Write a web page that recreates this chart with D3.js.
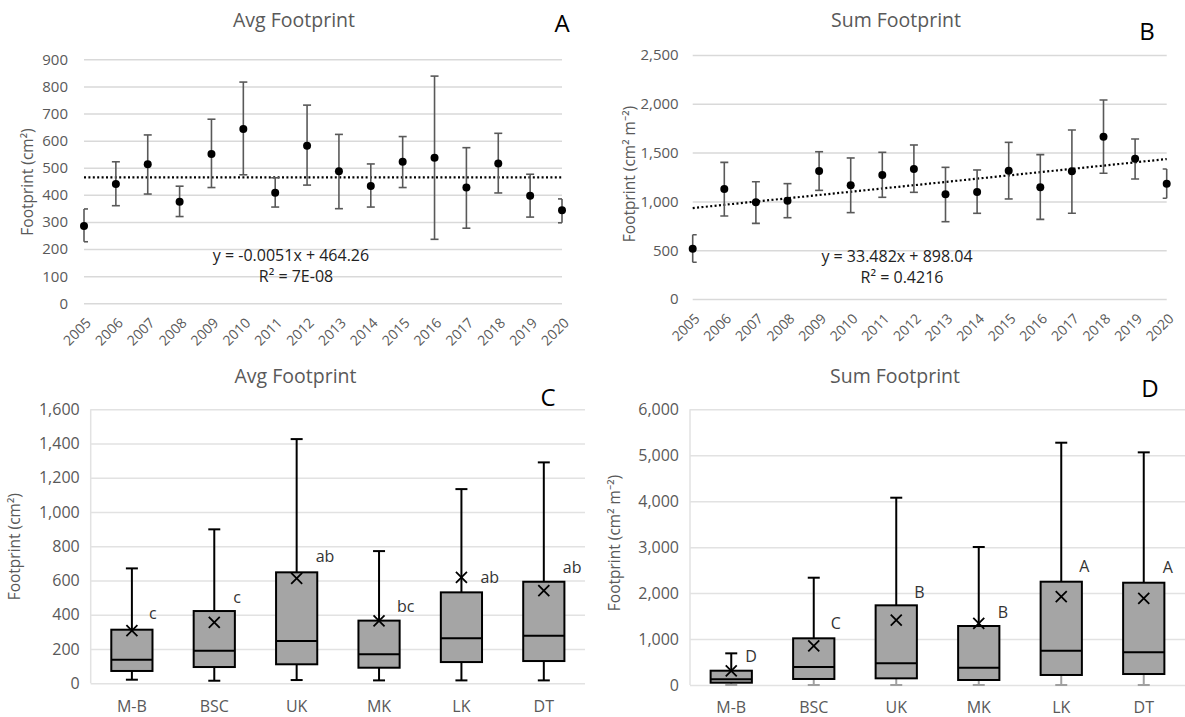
<!DOCTYPE html>
<html>
<head>
<meta charset="utf-8">
<script src="https://cdn.jsdelivr.net/npm/d3@7"></script>
<style>
body { margin: 0; background: #fff; }
text { font-family: "Open Sans", "Noto Sans", sans-serif; }
</style>
</head>
<body>
<svg id="chart" width="1185" height="717"></svg>
<script>
// ---- data ----
const years = ["2005", "2006", "2007", "2008", "2009", "2010", "2011", "2012",
               "2013", "2014", "2015", "2016", "2017", "2018", "2019", "2020"];

// A: average footprint per year (cm2), with error bar ends
const avgMean = [285, 440, 513, 375, 551, 643, 408, 581, 487, 433, 522, 537, 427, 516, 397, 343];
const avgHi   = [348, 522, 621, 432, 679, 816, 463, 731, 623, 514, 615, 838, 574, 627, 476, 385];
const avgLo   = [227, 360, 403, 320, 427, 474, 355, 436, 349, 355, 427, 236, 277, 407, 318, 297];
const avgTrend = { slope: -0.0051, intercept: 464.26, eq: "y = -0.0051x + 464.26", r2: "R² = 7E-08" };

// B: summed footprint per year (cm2 m-2)
const sumMean = [515, 1127, 991, 1007, 1311, 1165, 1271, 1332, 1072, 1096, 1315, 1144, 1308, 1663, 1438, 1181];
const sumHi   = [659, 1400, 1202, 1182, 1509, 1445, 1503, 1578, 1349, 1322, 1605, 1479, 1732, 2039, 1639, 1332];
const sumLo   = [376, 850, 775, 833, 1113, 885, 1042, 1093, 792, 878, 1025, 816, 878, 1288, 1230, 1032];
const sumTrend = { slope: 33.482, intercept: 898.04, eq: "y = 33.482x + 898.04", r2: "R² = 0.4216" };

// C / D: box plots per site
const sites = ["M-B", "BSC", "UK", "MK", "LK", "DT"];

const cMin  = [21, 15, 19, 17, 17, 17];
const cQ1   = [72, 95, 111, 91, 124, 130];
const cMed  = [138, 190, 247, 169, 263, 278];
const cQ3   = [313, 422, 648, 366, 531, 593];
const cMax  = [671, 899, 1426, 772, 1134, 1290];
const cMean = [307, 356, 613, 364, 619, 541];
const cLetters = ["c", "c", "ab", "bc", "ab", "ab"];

const dMin  = [0, 0, 0, 0, 0, 0];
const dQ1   = [50, 131, 145, 109, 218, 239];
const dMed  = [124, 392, 472, 377, 747, 711];
const dQ3   = [311, 1016, 1734, 1284, 2248, 2226];
const dMax  = [689, 2335, 4076, 3003, 5273, 5063];
const dMean = [305, 849, 1414, 1342, 1922, 1887];
const dLetters = ["D", "C", "B", "B", "A", "A"];

// ---- drawing ----
const svg = d3.select("#chart");
const grey = "#595959";

function styleAxis(a, gridColor, fontSize) {
    a.attr("font-family", null).attr("font-size", null);
    a.select(".domain").remove();
    a.selectAll("line").attr("stroke", gridColor).attr("stroke-width", 1.5);
    a.selectAll("text").attr("fill", grey).style("font-size", fontSize);
}

function label(t, x, y, size, color, anchor = "middle") {
    return svg.append("text")
        .attr("x", x).attr("y", y)
        .attr("text-anchor", anchor)
        .attr("fill", color)
        .style("font-size", size)
        .text(t);
}

function yTitle(t, x, y) {
    svg.append("text")
        .attr("transform", `translate(${x},${y}) rotate(-90)`)
        .attr("text-anchor", "middle")
        .attr("dy", "0.35em")
        .attr("fill", grey)
        .style("font-size", "15.5px")
        .text(t);
}

function yearPanel(p) {
    let x = d3.scalePoint().domain(years).range([p.left, p.right]);
    let y = d3.scaleLinear().domain([0, p.max]).range([p.bottom, p.top]);
    let g = svg.append("g");

    g.append("g")
        .attr("transform", `translate(${p.left},0)`)
        .call(d3.axisLeft(y)
            .tickValues(d3.range(0, p.max + 1, p.step))
            .tickFormat(p.fmt)
            .tickSize(-(p.right - p.left))
            .tickPadding(p.pad))
        .call(a => styleAxis(a, "#d9d9d9", "15px"));

    g.append("g")
        .attr("transform", `translate(0,${p.bottom})`)
        .call(d3.axisBottom(x).tickSize(0))
        .call(a => styleAxis(a, "#d9d9d9", "14px"))
        .selectAll("text")
        .attr("x", 0).attr("y", 0).attr("dy", "0.35em")
        .attr("text-anchor", "end")
        .attr("transform", "translate(4,17) rotate(-45)");

    // trend line
    let t = p.trend;
    g.append("line")
        .attr("x1", x(years[0])).attr("y1", y(t.intercept + t.slope * 1))
        .attr("x2", x(years[years.length - 1])).attr("y2", y(t.intercept + t.slope * years.length))
        .attr("stroke", "#000")
        .attr("stroke-width", 2.2)
        .attr("stroke-dasharray", "2 2.4");

    // error bars
    let clipId = "clip" + p.letter;
    svg.append("clipPath").attr("id", clipId)
        .append("rect")
        .attr("x", p.left).attr("y", 0)
        .attr("width", p.right - p.left).attr("height", 717);

    let bars = g.append("g").attr("stroke", grey).attr("stroke-width", 1.6);
    bars.selectAll(".stem")
        .data(years)
        .join("line")
        .attr("x1", d => x(d)).attr("x2", d => x(d))
        .attr("y1", (d, i) => y(p.hi[i])).attr("y2", (d, i) => y(p.lo[i]));
    let caps = bars.append("g").attr("clip-path", `url(#${clipId})`);
    [p.hi, p.lo].forEach(vals => {
        caps.append("g").selectAll("line")
            .data(years)
            .join("line")
            .attr("x1", d => x(d) - 4).attr("x2", d => x(d) + 4)
            .attr("y1", (d, i) => y(vals[i])).attr("y2", (d, i) => y(vals[i]));
    });

    g.selectAll(".dot")
        .data(years)
        .join("circle")
        .attr("cx", d => x(d))
        .attr("cy", (d, i) => y(p.mean[i]))
        .attr("r", 4)
        .attr("fill", "#000");

    label(p.title, p.titleX, p.titleY, "19.5px", grey);
    label(p.letter, p.letterX, p.letterY, "24px", "#000");
    label(t.eq, p.eqX, p.eqY, "16px", "#222");
    label(t.r2, p.eqX + 5, p.eqY + 20.5, "16px", "#222");
    yTitle(p.yTitle, p.yTitleX, p.yTitleY);
}

function boxPanel(p) {
    let x = d3.scaleBand().domain(sites).range([p.left, p.right]);
    let y = d3.scaleLinear().domain([0, p.max]).range([p.bottom, p.top]);
    let g = svg.append("g");
    let bw = x.bandwidth() * 0.5;
    let cx = d => x(d) + x.bandwidth() / 2;

    g.append("g")
        .attr("transform", `translate(${p.left},0)`)
        .call(d3.axisLeft(y)
            .tickValues(d3.range(0, p.max + 1, p.step))
            .tickFormat(d3.format(","))
            .tickSize(-(p.right - p.left))
            .tickPadding(p.pad))
        .call(a => styleAxis(a, "#e2e2e2", "16px"));

    g.append("line")
        .attr("x1", p.left).attr("x2", p.left)
        .attr("y1", p.top).attr("y2", p.bottom)
        .attr("stroke", "#e2e2e2").attr("stroke-width", 1.5);

    g.append("g")
        .attr("transform", `translate(0,${p.bottom})`)
        .call(d3.axisBottom(x).tickSize(0).tickPadding(17))
        .call(a => styleAxis(a, "#e2e2e2", "16px"));

    let b = p.box;
    // lower whisker
    let low = g.append("g").attr("stroke", p.lowColor).attr("stroke-width", 2);
    low.selectAll(".w").data(sites).join("line")
        .attr("x1", cx).attr("x2", cx)
        .attr("y1", (d, i) => y(b.q1[i])).attr("y2", (d, i) => y(b.min[i]));
    low.append("g").selectAll("line").data(sites).join("line")
        .attr("x1", d => cx(d) - 6).attr("x2", d => cx(d) + 6)
        .attr("y1", (d, i) => y(b.min[i])).attr("y2", (d, i) => y(b.min[i]));

    let up = g.append("g").attr("stroke", "#000").attr("stroke-width", 2);
    up.selectAll(".w").data(sites).join("line")
        .attr("x1", cx).attr("x2", cx)
        .attr("y1", (d, i) => y(b.q3[i])).attr("y2", (d, i) => y(b.max[i]));
    up.append("g").selectAll("line").data(sites).join("line")
        .attr("x1", d => cx(d) - 6).attr("x2", d => cx(d) + 6)
        .attr("y1", (d, i) => y(b.max[i])).attr("y2", (d, i) => y(b.max[i]));

    g.selectAll(".box").data(sites).join("rect")
        .attr("x", d => cx(d) - bw / 2)
        .attr("width", bw)
        .attr("y", (d, i) => y(b.q3[i]))
        .attr("height", (d, i) => y(b.q1[i]) - y(b.q3[i]))
        .attr("fill", "#a5a5a5")
        .attr("stroke", "#000")
        .attr("stroke-width", 2);

    g.selectAll(".med").data(sites).join("line")
        .attr("x1", d => cx(d) - bw / 2).attr("x2", d => cx(d) + bw / 2)
        .attr("y1", (d, i) => y(b.med[i])).attr("y2", (d, i) => y(b.med[i]))
        .attr("stroke", "#000").attr("stroke-width", 2);

    // mean markers
    let s = 5.5;
    g.selectAll(".mean").data(sites).join("path")
        .attr("d", (d, i) => {
            let mx = cx(d), my = y(b.mean[i]);
            return `M${mx - s},${my - s}L${mx + s},${my + s}M${mx - s},${my + s}L${mx + s},${my - s}`;
        })
        .attr("stroke", "#000").attr("stroke-width", 1.8);

    // significance letters
    g.selectAll(".let").data(sites).join("text")
        .attr("x", (d, i) => cx(d) + p.nudge[i][0])
        .attr("y", (d, i) => y(b.mean[i]) + p.nudge[i][1])
        .attr("dy", "0.35em")
        .attr("fill", "#333")
        .style("font-size", "16px")
        .text((d, i) => p.letters[i]);

    label(p.title, p.titleX, p.titleY, "19.5px", grey);
    label(p.letter, p.letterX, p.letterY, "24px", "#000");
    yTitle(p.yTitle, p.yTitleX, p.yTitleY);
}

yearPanel({
    left: 84, right: 562, top: 59.3, bottom: 303.3, max: 900, step: 100, pad: 16,
    fmt: d3.format("d"), mean: avgMean, hi: avgHi, lo: avgLo, trend: avgTrend,
    title: "Avg Footprint", titleX: 294, titleY: 26.5,
    letter: "A", letterX: 562, letterY: 32,
    eqX: 291, eqY: 261,
    yTitle: "Footprint (cm²)", yTitleX: 28, yTitleY: 182
});

yearPanel({
    left: 692.7, right: 1166.7, top: 55, bottom: 299, max: 2500, step: 500, pad: 14,
    fmt: d3.format(","), mean: sumMean, hi: sumHi, lo: sumLo, trend: sumTrend,
    title: "Sum Footprint", titleX: 896, titleY: 26.5,
    letter: "B", letterX: 1147, letterY: 40,
    eqX: 897, eqY: 262,
    yTitle: "Footprint (cm² m⁻²)", yTitleX: 630, yTitleY: 174
});

boxPanel({
    left: 90.7, right: 585, top: 409.3, bottom: 683.3, max: 1600, step: 200, pad: 11,
    box: { min: cMin, q1: cQ1, med: cMed, q3: cQ3, max: cMax, mean: cMean },
    letters: cLetters, lowColor: "#000",
    nudge: [[17, -17], [19, -25], [19, -22], [18, -15], [19, 0], [19, -23]],
    title: "Avg Footprint", titleX: 295.5, titleY: 383,
    letter: "C", letterX: 548, letterY: 406,
    yTitle: "Footprint (cm²)", yTitleX: 15, yTitleY: 546.7
});

boxPanel({
    left: 690, right: 1185, top: 409.3, bottom: 685, max: 6000, step: 1000, pad: 11,
    box: { min: dMin, q1: dQ1, med: dMed, q3: dQ3, max: dMax, mean: dMean },
    letters: dLetters, lowColor: "#a0a0a0",
    nudge: [[14, -15], [17, -23], [18, -28], [19, -11], [18, -30], [19, -31]],
    title: "Sum Footprint", titleX: 895, titleY: 383,
    letter: "D", letterX: 1150, letterY: 396.7,
    yTitle: "Footprint (cm² m⁻²)", yTitleX: 615, yTitleY: 543
});
</script>
</body>
</html>
